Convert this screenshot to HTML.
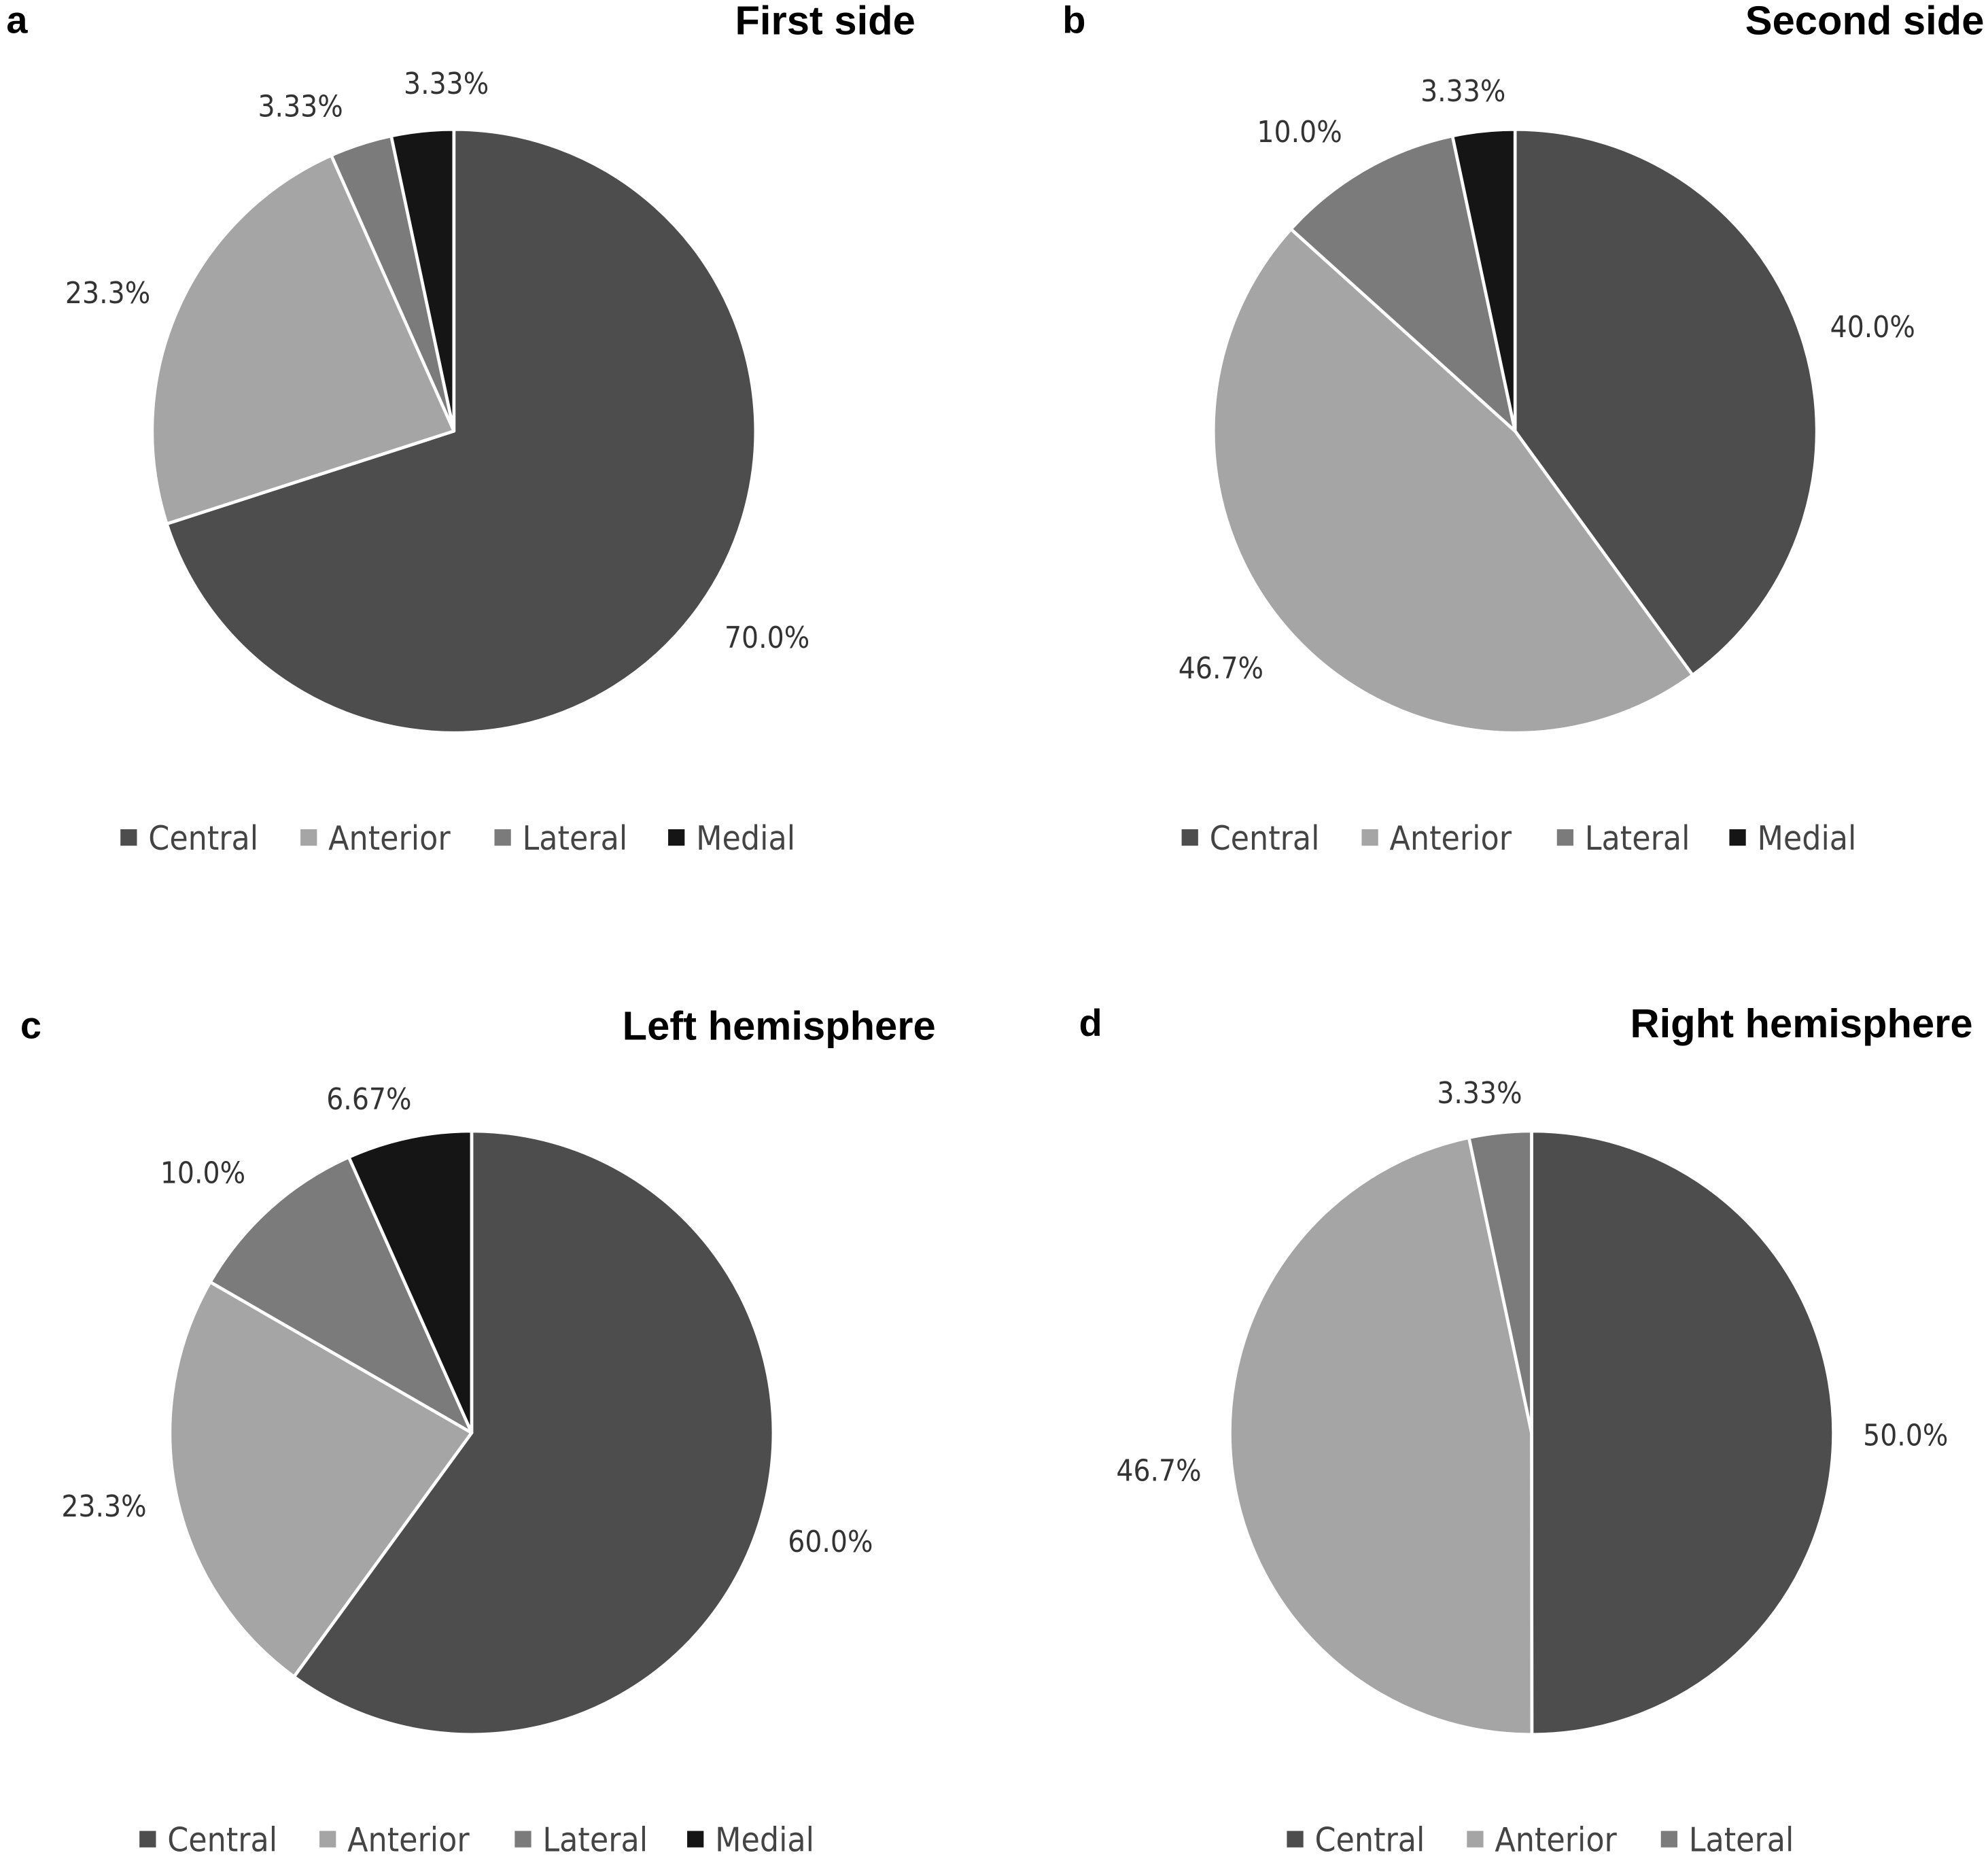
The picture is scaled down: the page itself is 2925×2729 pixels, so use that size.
<!DOCTYPE html>
<html><head><meta charset="utf-8"><style>
html,body{margin:0;padding:0;background:#fff}
svg{display:block}
text{font-family:"DejaVu Sans Condensed","Liberation Sans Narrow","Liberation Sans",sans-serif}
text.ttl{font-family:"Liberation Sans",sans-serif}
</style></head><body>
<svg id="chart" width="2925" height="2729" viewBox="0 0 1568 1463" preserveAspectRatio="none" xmlns="http://www.w3.org/2000/svg"></svg>
<script>
const categories = ["Central","Anterior","Lateral","Medial"];
const colors = ["#4d4d4d","#a5a5a5","#7b7b7b","#151515"];
const valuesA = [70.0, 23.3, 3.33, 3.33];
const valuesB = [40.0, 46.7, 10.0, 3.33];
const valuesC = [60.0, 23.3, 10.0, 6.67];
const valuesD = [50.0, 46.7, 3.33];
const labelsA = ["70.0%","23.3%","3.33%","3.33%"];
const labelsB = ["40.0%","46.7%","10.0%","3.33%"];
const labelsC = ["60.0%","23.3%","10.0%","6.67%"];
const labelsD = ["50.0%","46.7%","3.33%"];

const panels = [
 {id:"a",title:"First side",values:valuesA,labels:labelsA,cx:358,cy:340,letterX:5,letterY:26,titleX:722,titleY:27,legY:661,legX:[95,237,390,527],
  lp:[[605,503],[85,231],[237,84],[352,66]]},
 {id:"b",title:"Second side",values:valuesB,labels:labelsB,cx:1195,cy:340,letterX:838,letterY:26,titleX:1565,titleY:27,legY:661,legX:[932,1074,1228,1364],
  lp:[[1477,258],[963,527],[1025,104],[1154,72]]},
 {id:"c",title:"Left hemisphere",values:valuesC,labels:labelsC,cx:372,cy:1130,letterX:16,letterY:819,titleX:738,titleY:820,legY:1451,legX:[110,252,406,542],
  lp:[[655,1216],[82,1188],[160,925],[291,867]]},
 {id:"d",title:"Right hemisphere",values:valuesD,labels:labelsD,cx:1208,cy:1130,letterX:851,letterY:817,titleX:1556,titleY:818,legY:1451,legX:[1015,1157,1310],
  lp:[[1503,1132],[914,1160],[1167,862]]}
];
const R = 238;
const NS = "http://www.w3.org/2000/svg";
const svg = document.getElementById("chart");
function mk(tag, attrs, parent){const e=document.createElementNS(NS,tag);for(const k in attrs)e.setAttribute(k,attrs[k]);(parent||svg).appendChild(e);return e;}
function angleScale(v,total){return v/total*2*Math.PI;}
panels.forEach(p=>{
  const g = mk("g",{});
  
  
  const lt = mk("text",{x:p.letterX,y:p.letterY,"font-size":30,"font-weight":"bold",fill:"#000","class":"ttl"},g);
  lt.textContent=p.id;
  
  
  const tt = mk("text",{x:p.titleX,y:p.titleY,"font-size":32,"font-weight":"bold",fill:"#000","text-anchor":"end","class":"ttl"},g);
  tt.textContent=p.title;
  
  
  const total = p.values.reduce((a,b)=>a+b,0);
  let a0 = 0;
  p.values.forEach((v,i)=>{
    const a1 = a0 + angleScale(v,total);
    const x0=p.cx+R*Math.sin(a0), y0=p.cy-R*Math.cos(a0);
    const x1=p.cx+R*Math.sin(a1), y1=p.cy-R*Math.cos(a1);
    const large = (a1-a0)>Math.PI?1:0;
    const path = mk("path",{d:`M${p.cx},${p.cy} L${x0},${y0} A${R},${R} 0 ${large} 1 ${x1},${y1} Z`,fill:colors[i],stroke:"#fff","stroke-width":2.5,"stroke-linejoin":"round"},g);
    
    
    a0 = a1;
  });
  p.labels.forEach((l,i)=>{
    const t = mk("text",{x:p.lp[i][0],y:p.lp[i][1]+8,"font-size":23.5,fill:"#333","text-anchor":"middle"},g);
    t.textContent=l;
    
    
  });
  p.legX.forEach((x,i)=>{
    const r = mk("rect",{x:x,y:p.legY-7,width:13,height:13,fill:colors[i]},g);
    
    
    const t = mk("text",{x:x+22,y:p.legY+9,"font-size":26.5,fill:"#444"},g);
    t.textContent=categories[i];
    
    
  });
});
</script>
</body></html>
